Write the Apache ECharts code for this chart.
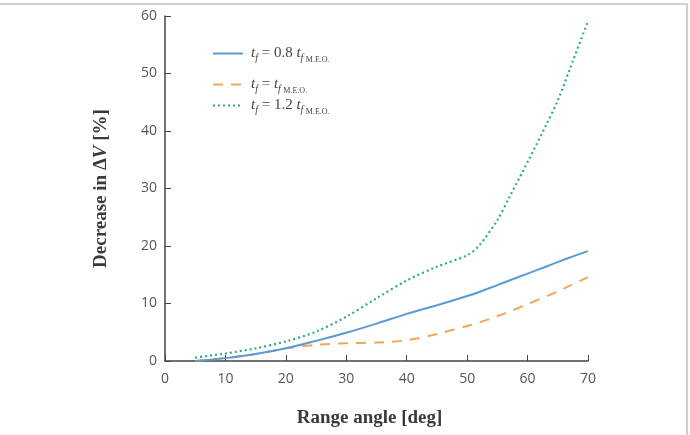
<!DOCTYPE html>
<html>
<head>
<meta charset="utf-8">
<script src="https://cdn.jsdelivr.net/npm/echarts@6/dist/echarts.min.js"></script>
<style>
	html, body { margin: 0; padding: 0; background: #fff; }
	#frame { position: absolute; left: 0; top: 3px; width: 686px; height: 432px; border-top: 2px solid #cfcfcf; border-right: 2px solid #cfcfcf; }
	#main { position: absolute; left: 0; top: 0; width: 690px; height: 435px; }
</style>
</head>
<body>
<div id="frame"></div>
<div id="main"></div>
<script>
// range angle [deg]
var angles = [5, 10, 15, 20, 25, 30, 35, 40, 45, 50, 52, 55, 57, 60, 63, 65, 67, 70];
// decrease in dV [%]
var tf08 = [0.0, 0.5, 1.2, 2.2, 3.5, 4.9, 6.5, 8.2, 9.7, 11.3, 12.0, 13.2, 14.0, 15.2, 16.4, 17.2, 18.0, 19.1];
var tf10 = [0.0, 0.5, 1.2, 2.2, 2.8, 3.1, 3.2, 3.6, 4.7, 6.1, 6.7, 7.8, 8.6, 9.9, 11.2, 12.1, 13.1, 14.6];
var tf12 = [0.6, 1.3, 2.2, 3.4, 5.1, 7.7, 10.9, 14.0, 16.4, 18.4, 20.1, 24.5, 28.5, 34.6, 40.9, 45.3, 50.8, 59.1];
var xTicks = [0, 10, 20, 30, 40, 50, 60, 70];
var yTicks = [0, 10, 20, 30, 40, 50, 60];

var legendText = {
	'0.8': '{i|t}{s|f}{n| = 0.8 }{i|t}{s|f }{m|M.E.O.}',
	'1.0': '{i|t}{s|f}{n| = }{i|t}{s|f }{m|M.E.O.}',
	'1.2': '{i|t}{s|f}{n| = 1.2 }{i|t}{s|f }{m|M.E.O.}'
};

function pairs(xs, ys) {
	var out = [];
	for (var k = 0; k < xs.length; k++) out.push([xs[k], ys[k]]);
	return out;
}

var serif = '"Liberation Serif", "DejaVu Serif", serif';
var sans = '"Open Sans", "Noto Sans", sans-serif';

var rich = {
	i: { fontFamily: serif, fontStyle: 'italic', fontSize: 15, color: '#444', lineHeight: 20, verticalAlign: 'middle' },
	n: { fontFamily: serif, fontSize: 15, color: '#444', lineHeight: 20, verticalAlign: 'middle' },
	s: { fontFamily: serif, fontStyle: 'italic', fontSize: 10, color: '#444', lineHeight: 10, verticalAlign: 'bottom' },
	m: { fontFamily: serif, fontSize: 8, color: '#444', lineHeight: 10, verticalAlign: 'bottom' }
};

function makeLegend(name, top) {
	return {
		data: [name],
		left: 212,
		top: top,
		padding: 0,
		itemWidth: 30,
		itemHeight: 12,
		selectedMode: false,
		itemStyle: { opacity: 0 },
		formatter: function (n) { return legendText[n]; },
		textStyle: { rich: rich, padding: [0, 0, 0, 3] }
	};
}

var myChart = echarts.init(document.getElementById('main'));
var option = {
	animation: false,
	grid: { left: 165, right: 102, top: 16, bottom: 74 },
	legend: [makeLegend('0.8', 46), makeLegend('1.0', 77), makeLegend('1.2', 98)],
	xAxis: {
		type: 'value',
		min: 0, max: 70, interval: 10,
		name: 'Range angle [deg]',
		nameLocation: 'middle',
		nameGap: 48,
		nameTextStyle: { fontFamily: serif, fontWeight: 'bold', fontSize: 19, color: '#3a3a3a', padding: [0, 14, 0, 0] },
		axisLine: { lineStyle: { color: '#444', width: 1.5 } },
		axisTick: { inside: true, length: 6, lineStyle: { color: '#444' } },
		axisLabel: { margin: 11, fontFamily: sans, fontSize: 14, color: '#555',
			formatter: function (v) { return xTicks.indexOf(v) >= 0 ? String(v) : ''; } },
		splitLine: { show: false }
	},
	yAxis: {
		type: 'value',
		min: 0, max: 60, interval: 10,
		name: '{b|Decrease in Δ}{iv|V}{b| [%]}',
		nameLocation: 'middle',
		nameGap: 54,
		nameTextStyle: {
			rich: {
				b: { fontFamily: serif, fontWeight: 'bold', fontSize: 19, color: '#3a3a3a' },
				iv: { fontFamily: serif, fontWeight: 'bold', fontStyle: 'italic', fontSize: 19, color: '#3a3a3a' }
			}
		},
		axisLine: { show: true, lineStyle: { color: '#444', width: 1.5 } },
		axisTick: { show: true, inside: true, length: 6, lineStyle: { color: '#444' } },
		axisLabel: { margin: 8, fontFamily: sans, fontSize: 14, color: '#555',
			formatter: function (v) { return yTicks.indexOf(v) >= 0 ? String(v) : ''; } },
		splitLine: { show: false }
	},
	series: [
		{
			name: '0.8', type: 'line', smooth: 0.3, symbol: 'none',
			data: pairs(angles, tf08),
			lineStyle: { color: '#5b9bd5', width: 2, type: 'solid' },
			itemStyle: { color: '#5b9bd5' },
			z: 3
		},
		{
			name: '1.0', type: 'line', smooth: 0.3, symbol: 'none',
			data: pairs(angles, tf10),
			lineStyle: { color: '#f5a55a', width: 2, type: [10, 8] },
			itemStyle: { color: '#f5a55a' },
			z: 2
		},
		{
			name: '1.2', type: 'line', smooth: 0.3, symbol: 'none',
			data: pairs(angles, tf12),
			lineStyle: { color: '#2fae7f', width: 2.2, type: [2, 3] },
			itemStyle: { color: '#2fae7f' },
			z: 4
		}
	]
};
myChart.setOption(option);
</script>
</body>
</html>
